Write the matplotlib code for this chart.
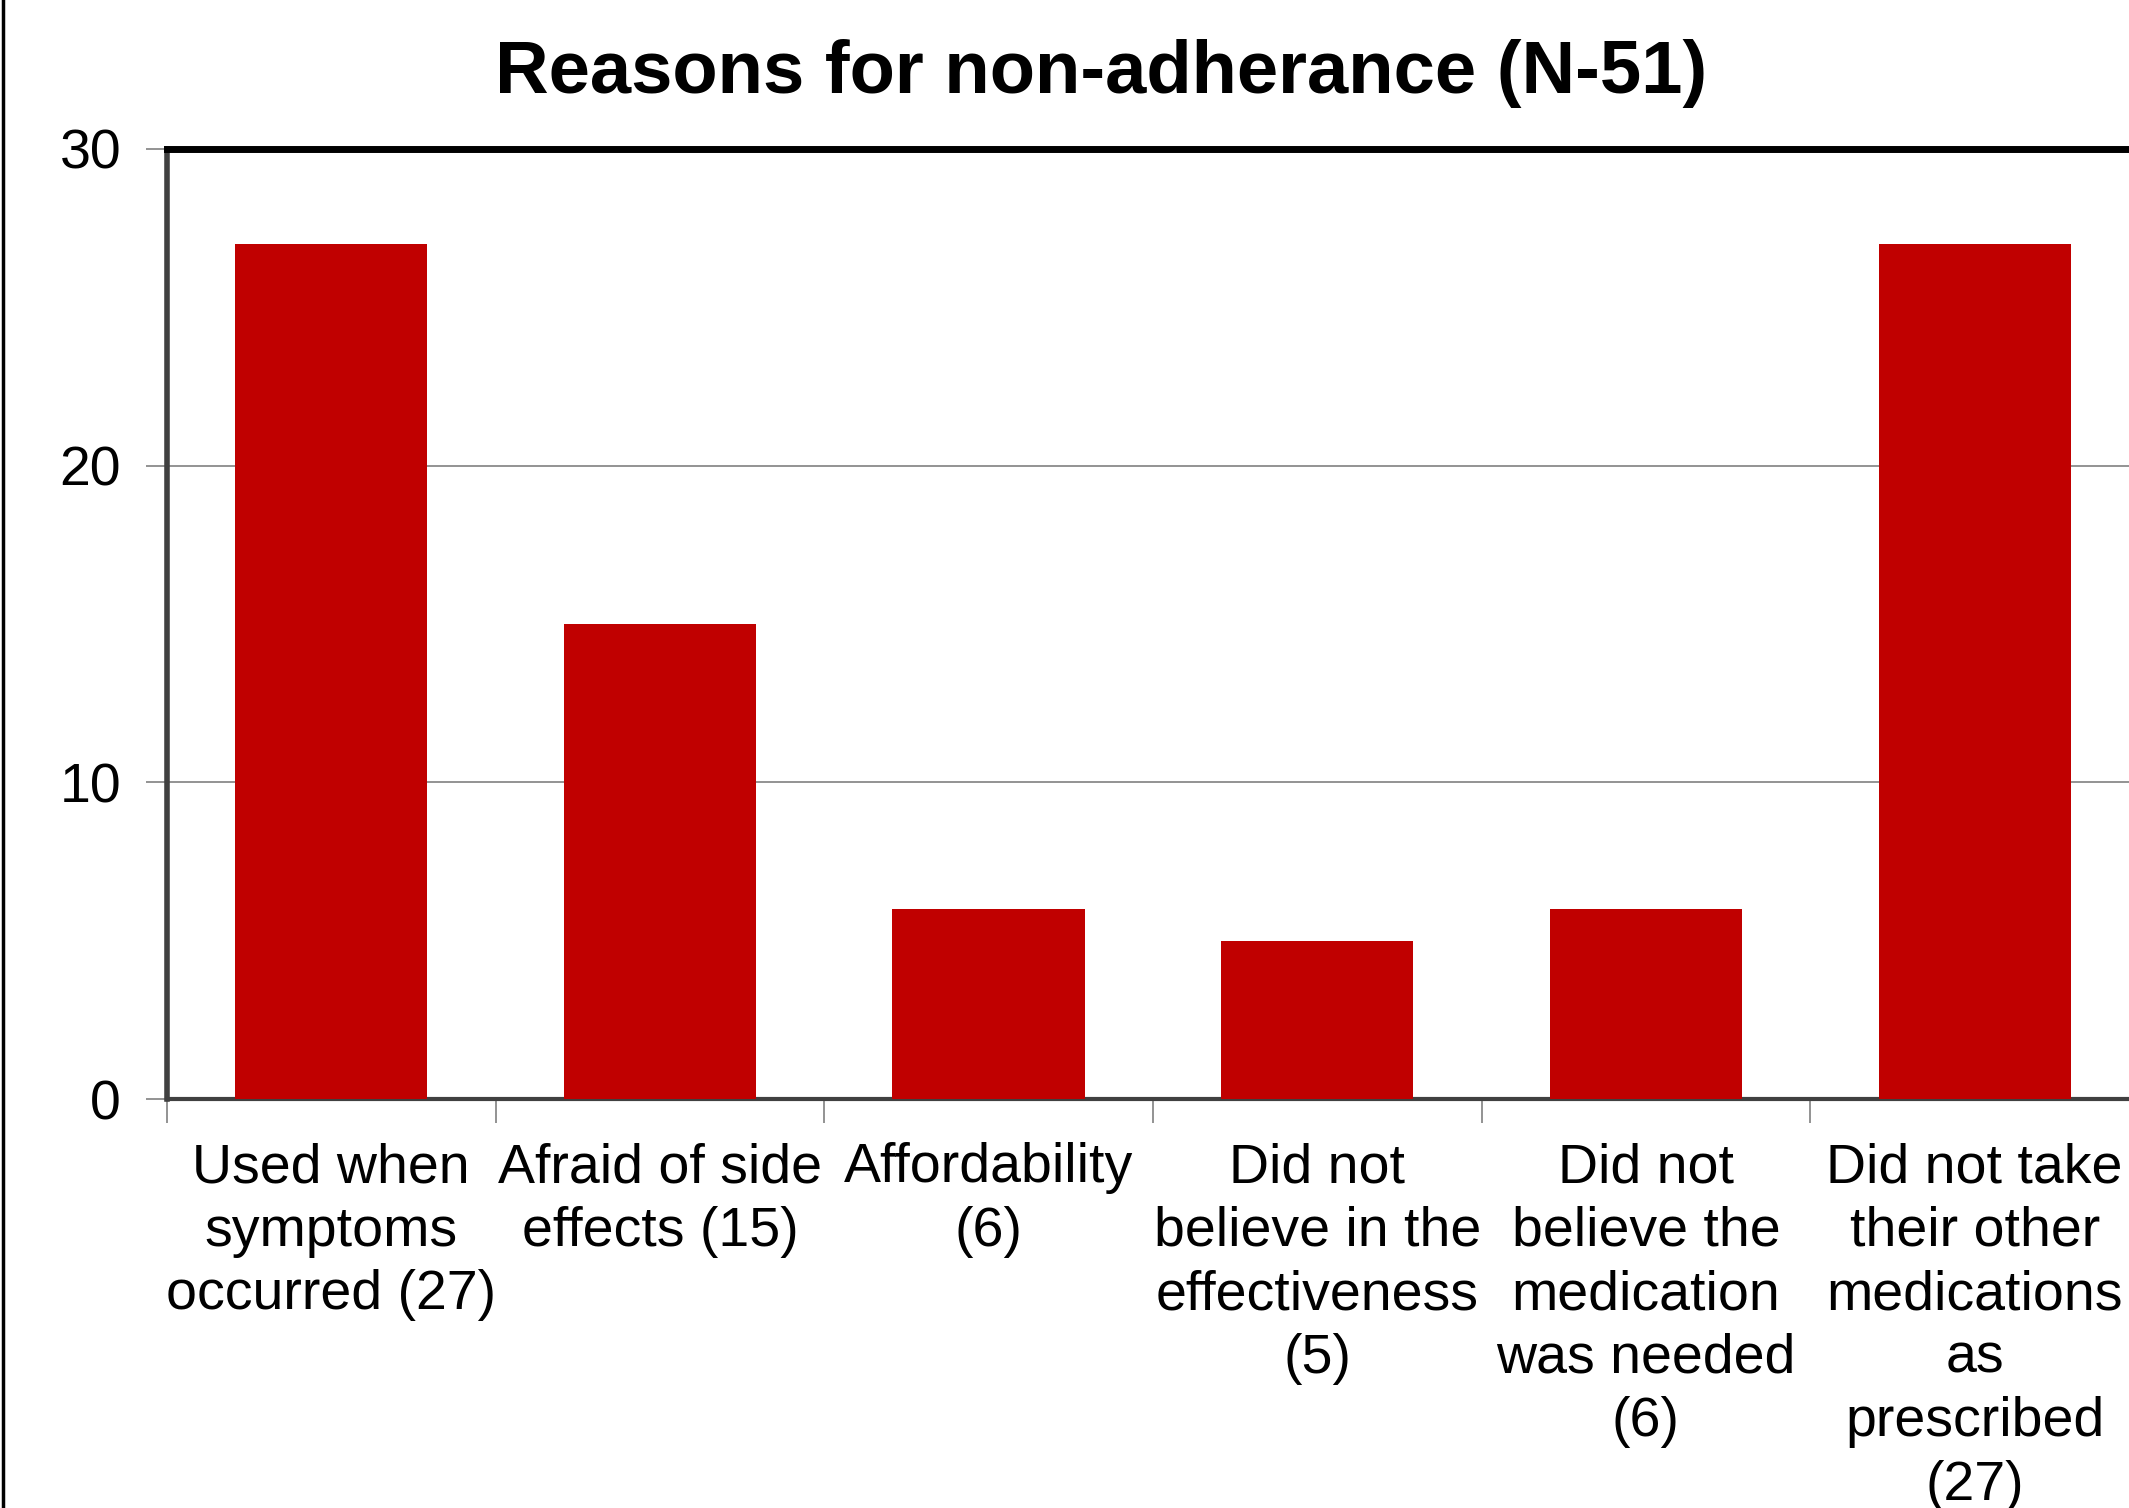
import numpy as np
import matplotlib
matplotlib.use("Agg")
import matplotlib.pyplot as plt
from matplotlib.lines import Line2D

categories = [
    "Used when\nsymptoms\noccurred (27)",
    "Afraid of side\neffects (15)",
    "Affordability\n(6)",
    "Did not\nbelieve in the\neffectiveness\n(5)",
    "Did not\nbelieve the\nmedication\nwas needed\n(6)",
    "Did not take\ntheir other\nmedications\nas\nprescribed\n(27)",
]
counts = [27, 15, 6, 5, 6, 27]
yticks = [0, 10, 20, 30]

plt.rcParams["font.family"] = ["Liberation Sans", "DejaVu Sans"]

fig = plt.figure(figsize=(21.29, 15.08), dpi=100)
ax = fig.add_axes([0.0784, 0.2712, 0.9263, 0.63])

x = np.arange(len(categories))
ax.bar(x, counts, width=0.585, color="#C00000", zorder=3)

ax.set_xlim(-0.5, len(categories) - 0.5)
ax.set_ylim(0, 30)
ax.set_yticks(yticks)
ax.set_yticklabels([str(v) for v in yticks], fontsize=40)
ax.tick_params(axis="y", length=15, width=1.2, color="#808080", pad=18)

ax.set_xticks(x)
ax.set_xticklabels(categories, fontsize=40, linespacing=1.29)
ax.set_xticks(np.arange(len(categories)) - 0.5, minor=True)
ax.tick_params(axis="x", which="major", length=0, pad=31)
ax.tick_params(axis="x", which="minor", length=17, width=1.2, color="#808080")

ax.yaxis.grid(True, color="#808080", lw=1.2, zorder=0)
ax.spines["top"].set_linewidth(5)
ax.spines["top"].set_color("black")
ax.spines["left"].set_linewidth(4)
ax.spines["left"].set_color("#404040")
ax.spines["bottom"].set_linewidth(3)
ax.spines["bottom"].set_color("#404040")
ax.spines["right"].set_visible(False)

fig.text(0.517, 0.9515, "Reasons for non-adherance (N-51)", ha="center", va="center",
         fontsize=53.5, fontweight="bold")

# page border on the left
fig.add_artist(Line2D([0.0015, 0.0015], [0, 1], transform=fig.transFigure, color="black", lw=2.5))

fig.savefig("out.png", dpi=100)
